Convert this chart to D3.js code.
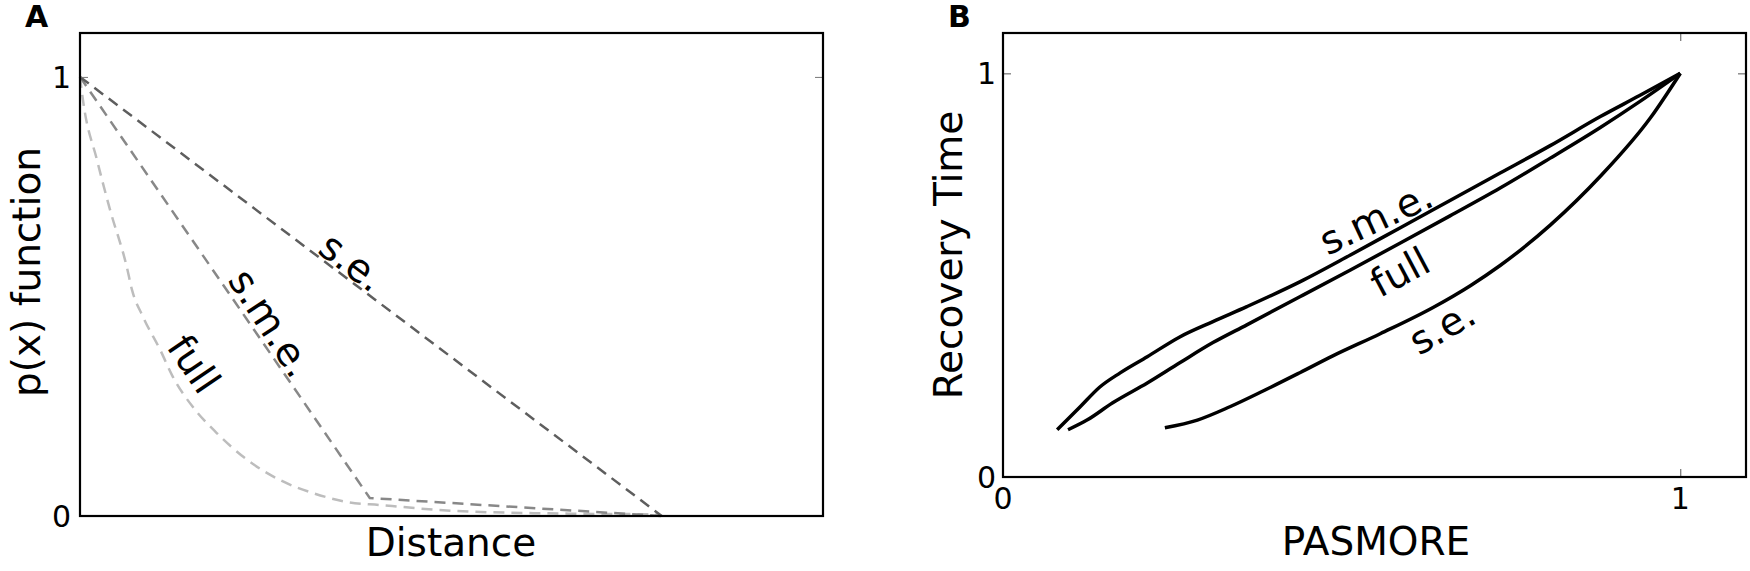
<!DOCTYPE html>
<html>
<head>
<meta charset="utf-8">
<script src="https://cdn.jsdelivr.net/npm/d3@7"></script>
<style>
  body { margin: 0; background: #fff; }
  text { font-family: "DejaVu Sans", sans-serif; fill: #000; }
</style>
</head>
<body>
<script>
var width = 1750, height = 571;

// panel A : p(x) against distance
var seAx  = [0, 7.83];
var seAy  = [1, 0];
var smeAx = [0, 3.9, 7.83];
var smeAy = [1, 0.041, 0];
var fullAx = [0, 0.04, 0.23, 0.40, 0.63, 0.70, 0.85, 1.08, 1.25, 1.52, 1.84, 2.25, 2.69, 3.14, 3.59, 4.04, 5.0, 6.3, 7.8];
var fullAy = [1, 0.947, 0.81, 0.70, 0.567, 0.515, 0.453, 0.378, 0.317, 0.248, 0.189, 0.128, 0.082, 0.052, 0.032, 0.025, 0.012, 0.006, 0.004];
var yTicksA = [0, 1];

// panel B : recovery time against PASMORE
var smeBx = [0.080, 0.114, 0.143, 0.173, 0.213, 0.261, 0.310, 0.360, 0.439, 0.513, 0.586, 0.660, 0.734, 0.808, 0.882, 0.940, 1.0];
var smeBy = [0.117, 0.174, 0.223, 0.258, 0.298, 0.347, 0.385, 0.422, 0.484, 0.550, 0.617, 0.685, 0.753, 0.821, 0.893, 0.945, 1.0];
var fullBx = [0.096, 0.124, 0.162, 0.213, 0.261, 0.310, 0.360, 0.439, 0.513, 0.586, 0.660, 0.734, 0.808, 0.882, 0.940, 1.0];
var fullBy = [0.117, 0.141, 0.184, 0.233, 0.283, 0.333, 0.377, 0.447, 0.513, 0.579, 0.647, 0.716, 0.790, 0.866, 0.930, 1.0];
var seBx = [0.239, 0.287, 0.335, 0.384, 0.439, 0.487, 0.557, 0.635, 0.690, 0.734, 0.808, 0.882, 0.956, 1.0];
var seBy = [0.122, 0.141, 0.174, 0.213, 0.259, 0.300, 0.355, 0.420, 0.474, 0.524, 0.624, 0.745, 0.890, 1.0];
var ticksB = [0, 1];

function zip(xs, ys) { return xs.map(function(x, i){ return [x, ys[i]]; }); }

var svg = d3.select("body").append("svg")
    .attr("width", width)
    .attr("height", height);

// ---------- panel A ----------
var xA = d3.scaleLinear().domain([0, 10]).range([80, 823]);
var yA = d3.scaleLinear().domain([0, 1.1]).range([516, 33]);

var lineA = d3.line().x(function(d){ return xA(d[0]); }).y(function(d){ return yA(d[1]); });
var curveA = d3.line().curve(d3.curveMonotoneX).x(function(d){ return xA(d[0]); }).y(function(d){ return yA(d[1]); });

var gA = svg.append("g");

gA.append("path").datum(zip(fullAx, fullAy))
  .attr("d", curveA).attr("fill", "none")
  .attr("stroke", "#bdbdbd").attr("stroke-width", 2.5).attr("stroke-dasharray", "11,7");
gA.append("path").datum(zip(smeAx, smeAy))
  .attr("d", lineA).attr("fill", "none")
  .attr("stroke", "#888").attr("stroke-width", 2.5).attr("stroke-dasharray", "11,7");
gA.append("path").datum(zip(seAx, seAy))
  .attr("d", lineA).attr("fill", "none")
  .attr("stroke", "#5e5e5e").attr("stroke-width", 2.5).attr("stroke-dasharray", "11,7");

// ticks (inside, left and right)
gA.append("g").attr("transform", "translate(80,0)")
  .call(d3.axisRight(yA).tickValues(yTicksA).tickSize(8).tickFormat(""))
  .call(function(g){ g.select(".domain").remove(); g.selectAll("line").attr("stroke", "#777").attr("stroke-width", 1); });
gA.append("g").attr("transform", "translate(823,0)")
  .call(d3.axisLeft(yA).tickValues(yTicksA).tickSize(8).tickFormat(""))
  .call(function(g){ g.select(".domain").remove(); g.selectAll("line").attr("stroke", "#777").attr("stroke-width", 1); });

gA.selectAll(".ytA").data(yTicksA).enter().append("text")
  .attr("x", 71).attr("y", function(d){ return yA(d); })
  .attr("dy", "0.36em").attr("text-anchor", "end")
  .style("font-size", "30px").text(function(d){ return d; });

gA.append("rect").attr("x", 80).attr("y", 33).attr("width", 743).attr("height", 483)
  .attr("fill", "none").attr("stroke", "#000").attr("stroke-width", 2.2);

gA.append("text").attr("x", 451).attr("y", 556).attr("text-anchor", "middle")
  .style("font-size", "39px").text("Distance");
gA.append("text").attr("transform", "translate(40,272) rotate(-90)").attr("text-anchor", "middle")
  .style("font-size", "39px").text("p(x) function");

gA.append("text").attr("transform", "translate(352,262) rotate(37)").attr("text-anchor", "middle")
  .attr("dy", "0.35em").style("font-size", "39px").text("s.e.");
gA.append("text").attr("transform", "translate(271,323) rotate(57)").attr("text-anchor", "middle")
  .attr("dy", "0.35em").style("font-size", "39px").text("s.m.e.");
gA.append("text").attr("transform", "translate(194,364) rotate(56)").attr("text-anchor", "middle")
  .attr("dy", "0.35em").style("font-size", "39px").text("full");

svg.append("text").attr("x", 25).attr("y", 27).style("font-size", "30px").style("font-weight", "bold").text("A");

// ---------- panel B ----------
var xB = d3.scaleLinear().domain([0, 1.1]).range([1003, 1748]);
var yB = d3.scaleLinear().domain([0, 1.1]).range([477, 33]);

var curveB = d3.line().curve(d3.curveMonotoneX).x(function(d){ return xB(d[0]); }).y(function(d){ return yB(d[1]); });

var gB = svg.append("g");
[[smeBx, smeBy], [fullBx, fullBy], [seBx, seBy]].forEach(function(s){
  gB.append("path").datum(zip(s[0], s[1]))
    .attr("d", curveB).attr("fill", "none")
    .attr("stroke", "#000").attr("stroke-width", 3.5).attr("stroke-linejoin", "round");
});

function tickStyle(g){ g.select(".domain").remove(); g.selectAll("line").attr("stroke", "#555").attr("stroke-width", 1); }
gB.append("g").attr("transform", "translate(1003,0)").call(d3.axisRight(yB).tickValues(ticksB).tickSize(8).tickFormat("")).call(tickStyle);
gB.append("g").attr("transform", "translate(1746,0)").call(d3.axisLeft(yB).tickValues(ticksB).tickSize(8).tickFormat("")).call(tickStyle);
gB.append("g").attr("transform", "translate(0,477)").call(d3.axisTop(xB).tickValues(ticksB).tickSize(8).tickFormat("")).call(tickStyle);
gB.append("g").attr("transform", "translate(0,33)").call(d3.axisBottom(xB).tickValues(ticksB).tickSize(8).tickFormat("")).call(tickStyle);

gB.selectAll(".ytB").data(ticksB).enter().append("text")
  .attr("x", 996).attr("y", function(d){ return yB(d); })
  .attr("dy", "0.36em").attr("text-anchor", "end")
  .style("font-size", "30px").text(function(d){ return d; });
gB.selectAll(".xtB").data(ticksB).enter().append("text")
  .attr("x", function(d){ return xB(d); }).attr("y", 509)
  .attr("text-anchor", "middle")
  .style("font-size", "30px").text(function(d){ return d; });

gB.append("rect").attr("x", 1003).attr("y", 33).attr("width", 743).attr("height", 444)
  .attr("fill", "none").attr("stroke", "#000").attr("stroke-width", 2.2);

gB.append("text").attr("x", 1376).attr("y", 555).attr("text-anchor", "middle")
  .style("font-size", "39px").text("PASMORE");
gB.append("text").attr("transform", "translate(962,255) rotate(-90)").attr("text-anchor", "middle")
  .style("font-size", "39px").text("Recovery Time");

gB.append("text").attr("transform", "translate(1376,218) rotate(-25)").attr("text-anchor", "middle")
  .attr("dy", "0.35em").style("font-size", "39px").text("s.m.e.");
gB.append("text").attr("transform", "translate(1400,272) rotate(-28)").attr("text-anchor", "middle")
  .attr("dy", "0.35em").style("font-size", "39px").text("full");
gB.append("text").attr("transform", "translate(1442,327) rotate(-30)").attr("text-anchor", "middle")
  .attr("dy", "0.35em").style("font-size", "39px").text("s.e.");

svg.append("text").attr("x", 948).attr("y", 27).style("font-size", "30px").style("font-weight", "bold").text("B");
</script>
</body>
</html>
